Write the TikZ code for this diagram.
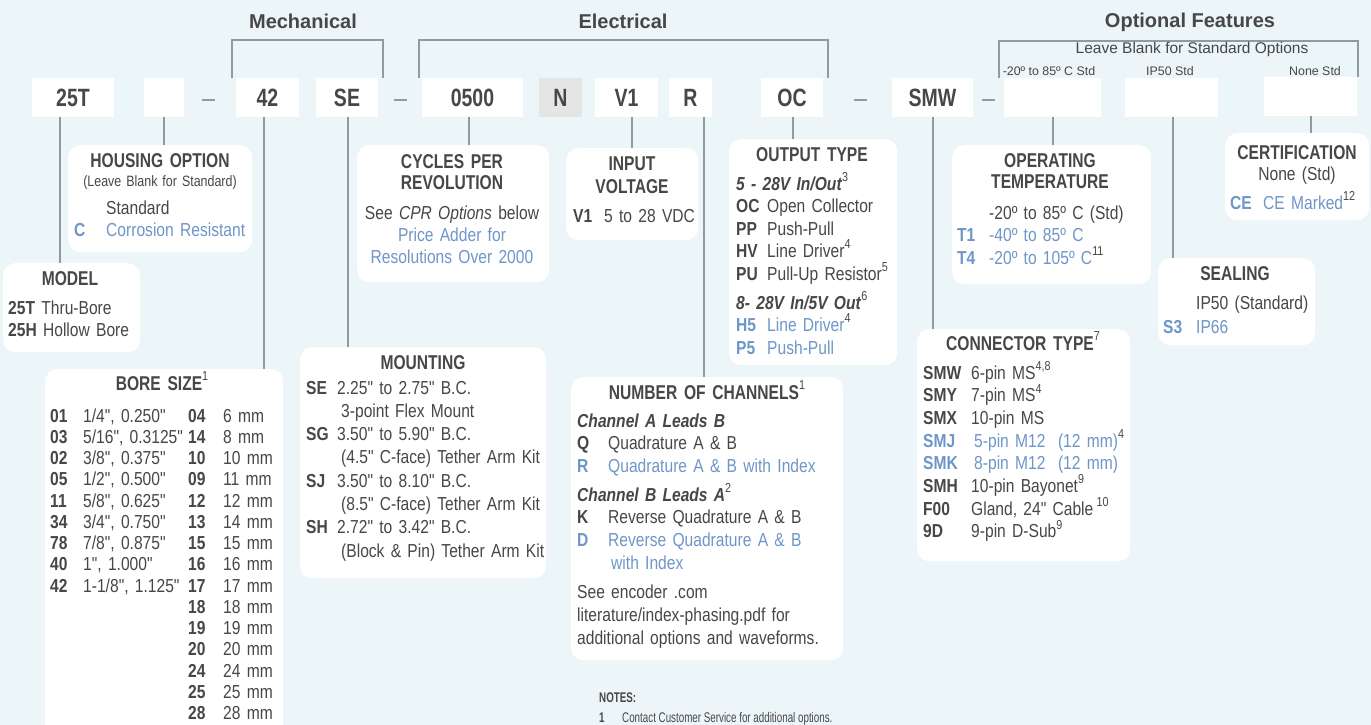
\documentclass[tikz,border=0pt]{standalone}
\usepackage{fontspec}
\setmainfont{Liberation Sans}
\newfontfamily\narrowfont{Liberation Sans}[FakeStretch=0.83]
\newfontfamily\condfont{Liberation Sans}[FakeStretch=0.78]
\newfontfamily\notefont{Liberation Sans}[FakeStretch=0.7]
\usepackage{xcolor}
\usetikzlibrary{positioning}

\definecolor{txtgray}{HTML}{474747}
\definecolor{optblue}{HTML}{6E96C8}
\definecolor{leadgray}{HTML}{8C9C9F}
\definecolor{bgblue}{HTML}{ECF5F8}
\definecolor{nfill}{HTML}{E5E5E5}

\newcommand\opt[1]{\textcolor{optblue}{#1}}
\newcommand\fnote[1]{\raisebox{0.46em}{\color{txtgray}\narrowfont\mdseries\upshape\fontsize{13}{13}\selectfont #1}}
\newcommand\cd[2]{\makebox[#1][l]{\bfseries #2}}

\begin{document}
\begin{tikzpicture}[x=1pt, y=-1pt,
    codebox/.style={rectangle, fill=white, minimum height=39, inner sep=0pt, text=txtgray, font=\condfont\bfseries\fontsize{25}{25}\selectfont},
    optbox/.style={rectangle, rounded corners=12pt, fill=white, inner sep=0pt, anchor=north west},
    boxtitle/.style={anchor=base, align=center, text width=220pt, inner sep=0pt, text=txtgray, font=\condfont\bfseries\fontsize{20}{21.5}\selectfont},
    boxbody/.style={anchor=base west, align=left, text width=260pt, inner sep=0pt, text=txtgray, font=\narrowfont\fontsize{18.8}{22.5}\selectfont},
    grouplabel/.style={anchor=base, inner sep=0pt, text=txtgray, font=\bfseries\fontsize{20}{20}\selectfont},
    stdlabel/.style={anchor=base, inner sep=0pt, text=txtgray, font=\fontsize{12.4}{12.4}\selectfont},
    notes/.style={anchor=base west, inner sep=0pt, text=txtgray, font=\notefont\fontsize{14}{14}\selectfont},
    lead/.style={draw=leadgray, line width=2pt},
    bracket/.style={draw=leadgray, line width=1.6pt},
    dashmark/.style={rectangle, fill=leadgray, minimum width=13, minimum height=1.6, inner sep=0pt}
]
    \useasboundingbox (0,0) rectangle (1371,725);
    \fill[bgblue] (0,0) rectangle (1371,725);

    % ordering code
    \node[codebox, minimum width=82] (c25T) at (73,97.5) {25T};
    \node[codebox, minimum width=40] (cblank) at (164,97.5) {};
    \node[codebox, minimum width=63] (c42) at (267.5,97.5) {42};
    \node[codebox, minimum width=62] (cSE) at (347,97.5) {SE};
    \node[codebox, minimum width=101] (c0500) at (472.5,97.5) {0500};
    \node[codebox, minimum width=43, fill=nfill] (cN) at (560.5,97.5) {N};
    \node[codebox, minimum width=63] (cV1) at (626.5,97.5) {V1};
    \node[codebox, minimum width=43] (cR) at (690.5,97.5) {R};
    \node[codebox, minimum width=62] (cOC) at (792,97.5) {OC};
    \node[codebox, minimum width=81] (cSMW) at (932.5,97.5) {SMW};
    \node[codebox, minimum width=97] (ctemp) at (1052.5,97.5) {};
    \node[codebox, minimum width=93] (cseal) at (1171.5,97.5) {};
    \node[codebox, minimum width=93] (ccert) at (1310.5,96.5) {};

    \node[dashmark] (dash1) at (208.5,100) {};
    \node[dashmark] (dash2) at (400,100) {};
    \node[dashmark] (dash3) at (860,100) {};
    \node[dashmark] (dash4) at (988.5,100) {};

    % groups
    \draw[bracket] ([xshift=-4pt]c42.north west) -- ++(0,-38) -| ([xshift=5pt]cSE.north east);
    \draw[bracket] ([xshift=-3pt]c0500.north west) -- ++(0,-38) -| ([xshift=5pt]cOC.north east);
    \draw[bracket] ([xshift=-5pt]ctemp.north west) -- ++(0,-37) -| ([xshift=1pt]ccert.north east);
    \node[grouplabel] (mechlabel) at (303,29) {Mechanical};
    \node[grouplabel] (eleclabel) at (623,29) {Electrical};
    \node[grouplabel] (optlabel) at (1190,28) {Optional Features};
    \node[stdlabel, font=\fontsize{15.5}{15.5}\selectfont] (blanklabel) at (1192,53.5) {Leave Blank for Standard Options};
    \node[stdlabel] (tempstd) at (1049,75.5) {-20º to 85º C Std};
    \node[stdlabel] (sealstd) at (1170,75.5) {IP50 Std};
    \node[stdlabel] (certstd) at (1315,75.5) {None Std};

    % option boxes
    \node[optbox, minimum width=184, minimum height=107] (housing) at (68,145) {};
    \node[boxtitle] (housingtitle) at (160,167.5) {HOUSING OPTION};
    \node[boxtitle, font=\narrowfont\fontsize{15}{16}\selectfont] (housingnote) at (160,186) {(Leave Blank for Standard)};
    \node[boxbody, font=\narrowfont\fontsize{18.8}{22}\selectfont] (housingbody) at (74,214) {\hspace*{32pt}Standard\\ \opt{\cd{32pt}{C}Corrosion Resistant}};

    \node[optbox, minimum width=137, minimum height=89] (model) at (3,263) {};
    \node[boxtitle] (modeltitle) at (70,285) {MODEL};
    \node[boxbody, font=\narrowfont\fontsize{18.8}{22}\selectfont] (modelbody) at (8,314) {\textbf{25T} Thru-Bore\\ \textbf{25H} Hollow Bore};

    \node[optbox, minimum width=238, minimum height=380] (bore) at (45,369) {};
    \node[boxtitle] (boretitle) at (162,390) {BORE SIZE\fnote{1}};
    \node[boxbody, font=\narrowfont\fontsize{18.8}{21.26}\selectfont] (boreinch) at (50,422) {\cd{33pt}{01}1/4", 0.250"\\ \cd{33pt}{03}5/16", 0.3125"\\ \cd{33pt}{02}3/8", 0.375"\\ \cd{33pt}{05}1/2", 0.500"\\ \cd{33pt}{11}5/8", 0.625"\\ \cd{33pt}{34}3/4", 0.750"\\ \cd{33pt}{78}7/8", 0.875"\\ \cd{33pt}{40}1", 1.000"\\ \cd{33pt}{42}1-1/8", 1.125"};
    \node[boxbody, font=\narrowfont\fontsize{18.8}{21.26}\selectfont] (boremm) at (188,422) {\cd{35pt}{04}6 mm\\ \cd{35pt}{14}8 mm\\ \cd{35pt}{10}10 mm\\ \cd{35pt}{09}11 mm\\ \cd{35pt}{12}12 mm\\ \cd{35pt}{13}14 mm\\ \cd{35pt}{15}15 mm\\ \cd{35pt}{16}16 mm\\ \cd{35pt}{17}17 mm\\ \cd{35pt}{18}18 mm\\ \cd{35pt}{19}19 mm\\ \cd{35pt}{20}20 mm\\ \cd{35pt}{24}24 mm\\ \cd{35pt}{25}25 mm\\ \cd{35pt}{28}28 mm};

    \node[optbox, minimum width=192, minimum height=137] (cpr) at (357,145) {};
    \node[boxtitle] (cprtitle) at (452,168) {CYCLES PER\\REVOLUTION};
    \node[boxbody, anchor=base, align=center, text width=190pt, font=\narrowfont\fontsize{18.8}{22}\selectfont] (cprbody) at (452,219) {See \textit{CPR Options} below\\ \opt{Price Adder for}\\ \opt{Resolutions Over 2000}};

    \node[optbox, minimum width=132, minimum height=92] (input) at (566,148) {};
    \node[boxtitle, font=\condfont\bfseries\fontsize{20}{23}\selectfont] (inputtitle) at (632,170) {INPUT\\VOLTAGE};
    \node[boxbody] (inputbody) at (573,222) {\cd{31pt}{V1}5 to 28 VDC};

    \node[optbox, minimum width=168, minimum height=226] (output) at (729,139) {};
    \node[boxtitle] (outputtitle) at (812,161) {OUTPUT TYPE};
    \node[boxbody] (outputbody) at (736,190) {\textbf{\textit{5 - 28V In/Out}}\fnote{3}\\ \cd{31pt}{OC}Open Collector\\ \cd{31pt}{PP}Push-Pull\\ \cd{31pt}{HV}Line Driver\fnote{4}\\ \cd{31pt}{PU}Pull-Up Resistor\fnote{5}\\[6.5pt] \textbf{\textit{8- 28V In/5V Out}}\fnote{6}\\ \opt{\cd{31pt}{H5}Line Driver}\fnote{4}\\ \opt{\cd{31pt}{P5}Push-Pull}};

    \node[optbox, minimum width=272, minimum height=283] (channels) at (571,377) {};
    \node[boxtitle] (channelstitle) at (707,399) {NUMBER OF CHANNELS\fnote{1}};
    \node[boxbody, font=\narrowfont\fontsize{18.8}{22.7}\selectfont] (channelsbody) at (577,427) {\textbf{\textit{Channel A Leads B}}\\ \cd{31pt}{Q}Quadrature A \& B\\ \opt{\cd{31pt}{R}Quadrature A \& B with Index}\\[6pt] \textbf{\textit{Channel B Leads A}}\fnote{2}\\ \cd{31pt}{K}Reverse Quadrature A \& B\\ \opt{\cd{31pt}{D}Reverse Quadrature A \& B}\\ \hspace*{34pt}\opt{with Index}\\[7pt] See encoder .com\\ literature/index-phasing.pdf for\\ additional options and waveforms.};

    \node[optbox, minimum width=246, minimum height=231] (mounting) at (300,347) {};
    \node[boxtitle] (mountingtitle) at (423,369) {MOUNTING};
    \node[boxbody, font=\narrowfont\fontsize{18.8}{23.3}\selectfont] (mountingbody) at (306,394) {\cd{31pt}{SE}2.25" to 2.75" B.C.\\ \hspace*{35pt}3-point Flex Mount\\ \cd{31pt}{SG}3.50" to 5.90" B.C.\\ \hspace*{35pt}(4.5" C-face) Tether Arm Kit\\ \cd{31pt}{SJ}3.50" to 8.10" B.C.\\ \hspace*{35pt}(8.5" C-face) Tether Arm Kit\\ \cd{31pt}{SH}2.72" to 3.42" B.C.\\ \hspace*{35pt}(Block \& Pin) Tether Arm Kit};

    \node[optbox, minimum width=199, minimum height=139] (tempbox) at (952,145) {};
    \node[boxtitle] (temptitle) at (1050,167) {OPERATING\\TEMPERATURE};
    \node[boxbody] (tempbody) at (957,219) {\hspace*{32pt}-20º to 85º C (Std)\\ \opt{\cd{32pt}{T1}-40º to 85º C}\\ \opt{\cd{32pt}{T4}-20º to 105º C}\fnote{11}};

    \node[optbox, minimum width=157, minimum height=87] (sealing) at (1158,258) {};
    \node[boxtitle] (sealingtitle) at (1235,280) {SEALING};
    \node[boxbody, font=\narrowfont\fontsize{18.8}{24}\selectfont] (sealingbody) at (1163,309) {\hspace*{33pt}IP50 (Standard)\\ \opt{\cd{33pt}{S3}IP66}};

    \node[optbox, minimum width=144, minimum height=87] (cert) at (1225,133) {};
    \node[boxtitle] (certtitle) at (1297,159) {CERTIFICATION};
    \node[boxbody, anchor=base, align=center, text width=140pt] (certnone) at (1297,180) {None (Std)};
    \node[boxbody] (certbody) at (1230,209) {\opt{\cd{33pt}{CE}CE Marked}\fnote{12}};

    \node[optbox, minimum width=213, minimum height=232] (connector) at (917,329) {};
    \node[boxtitle] (connectortitle) at (1023,350) {CONNECTOR TYPE\fnote{7}};
    \node[boxbody, font=\narrowfont\fontsize{18.8}{22.7}\selectfont] (connectorbody) at (923,379) {\cd{48pt}{SMW}6-pin MS\fnote{4,8}\\ \cd{48pt}{SMY}7-pin MS\fnote{4}\\ \cd{48pt}{SMX}10-pin MS\\ \opt{\cd{51pt}{SMJ}5-pin M12\ \ (12 mm)}\fnote{4}\\ \opt{\cd{51pt}{SMK}8-pin M12\ \ (12 mm)}\\ \cd{48pt}{SMH}10-pin Bayonet\fnote{9}\\ \cd{48pt}{F00}Gland, 24" Cable\,\fnote{10}\\ \cd{48pt}{9D}9-pin D-Sub\fnote{9}};

    \node[notes] (noteshead) at (599,702) {\bfseries NOTES:};
    \node[notes] (note1) at (599,722) {\cd{23pt}{1}Contact Customer Service for additional options.};

    % leaders
    \draw[lead] ([xshift=-13pt]c25T.south) -- ([xshift=-13pt]c25T.south |- model.north);
    \draw[lead] (cblank.south) -- (cblank.south |- housing.north);
    \draw[lead] ([xshift=-3.5pt]c42.south) -- ([xshift=-3.5pt]c42.south |- bore.north);
    \draw[lead] ([xshift=1pt]cSE.south) -- ([xshift=1pt]cSE.south |- mounting.north);
    \draw[lead] ([xshift=-3.5pt]c0500.south) -- ([xshift=-3.5pt]c0500.south |- cpr.north);
    \draw[lead] ([xshift=5.5pt]cV1.south) -- ([xshift=5.5pt]cV1.south |- input.north);
    \draw[lead] ([xshift=13.5pt]cR.south) -- ([xshift=13.5pt]cR.south |- channels.north);
    \draw[lead] ([xshift=1pt]cOC.south) -- ([xshift=1pt]cOC.south |- output.north);
    \draw[lead] (cSMW.south) -- (cSMW.south |- connector.north);
    \draw[lead] (ctemp.south) -- (ctemp.south |- tempbox.north);
    \draw[lead] ([xshift=1.5pt]cseal.south) -- ([xshift=1.5pt]cseal.south |- sealing.north);
    \draw[lead] (ccert.south) -- (ccert.south |- cert.north);
\end{tikzpicture}
\end{document}
